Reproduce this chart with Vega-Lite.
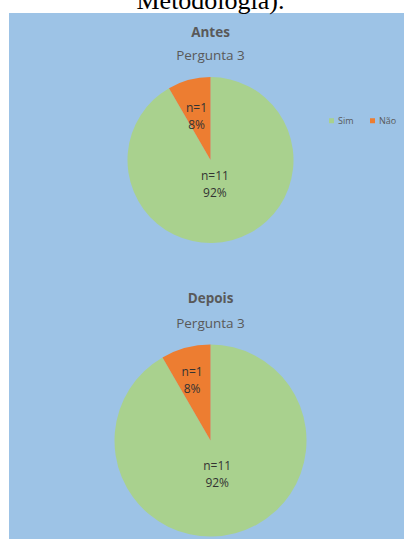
{
  "$schema": "https://vega.github.io/schema/vega-lite/v6.json",
  "autosize": {"type": "none"},
  "width": 403,
  "height": 526,
  "padding": {"left": 9, "top": 13, "right": 0, "bottom": 0},
  "background": "white",
  "title": {
    "text": "Metodologia).",
    "font": "Liberation Serif",
    "fontSize": 26,
    "fontWeight": "normal",
    "color": "black",
    "anchor": "middle",
    "baseline": "alphabetic",
    "offset": 0,
    "dy": 22
  },
  "config": {
    "view": {"stroke": null, "fill": "#9DC3E6"},
    "font": "Open Sans"
  },
  "data": {
    "values": [
      {"grupo": "Antes", "resposta": "Sim", "n": 11, "rotulo": "n=11\n92%"},
      {"grupo": "Antes", "resposta": "Não", "n": 1, "rotulo": "n=1\n8%"},
      {"grupo": "Depois", "resposta": "Sim", "n": 11, "rotulo": "n=11\n92%"},
      {"grupo": "Depois", "resposta": "Não", "n": 1, "rotulo": "n=1\n8%"}
    ]
  },
  "layer": [
    {
      "transform": [{"filter": "datum.grupo == 'Antes'"}],
      "mark": {"type": "arc", "outerRadius": 83},
      "encoding": {
        "theta": {"field": "n", "type": "quantitative", "stack": true},
        "order": {"field": "resposta", "sort": "descending"},
        "y": {"field": "grupo", "type": "nominal", "scale": {"type": "point", "domain": ["Antes", "Depois"], "padding": 0.4376, "align": 0.599}, "axis": null},
        "color": {
          "field": "resposta", "type": "nominal",
          "scale": {"domain": ["Sim", "Não"], "range": ["#A9D18E", "#ED7D31"]},
          "legend": {
            "title": null, "orient": "none", "legendX": 318, "legendY": 103,
            "direction": "horizontal", "columns": 2, "padding": 0,
            "symbolType": "square", "symbolSize": 25, "symbolStrokeWidth": 0,
            "labelFontSize": 9, "labelColor": "#595959", "labelOffset": 2,
            "columnPadding": 14
          }
        }
      }
    },
    {
      "transform": [{"filter": "datum.grupo == 'Depois'"}],
      "mark": {"type": "arc", "outerRadius": 96},
      "encoding": {
        "theta": {"field": "n", "type": "quantitative", "stack": true},
        "order": {"field": "resposta", "sort": "descending"},
        "y": {"field": "grupo", "type": "nominal", "axis": null},
        "color": {"field": "resposta", "type": "nominal"}
      }
    },
    {
      "transform": [{"filter": "datum.grupo == 'Antes'"}],
      "mark": {"type": "text", "radius": {"expr": "datum.resposta == 'Sim' ? 17 : 54"}, "lineBreak": "\n", "fontSize": 12, "lineHeight": 17, "color": "#333333", "align": "center", "baseline": "middle"},
      "encoding": {
        "theta": {"field": "n", "type": "quantitative", "stack": true},
        "order": {"field": "resposta", "sort": "descending"},
        "y": {"field": "grupo", "type": "nominal", "axis": null},
        "text": {"field": "rotulo"}
      }
    },
    {
      "transform": [{"filter": "datum.grupo == 'Depois'"}],
      "mark": {"type": "text", "radius": {"expr": "datum.resposta == 'Sim' ? 26 : 71"}, "lineBreak": "\n", "fontSize": 12, "lineHeight": 17, "color": "#333333", "align": "center", "baseline": "middle"},
      "encoding": {
        "theta": {"field": "n", "type": "quantitative", "stack": true},
        "order": {"field": "resposta", "sort": "descending"},
        "y": {"field": "grupo", "type": "nominal", "axis": null},
        "text": {"field": "rotulo"}
      }
    },
    {
      "data": {"values": [{"grupo": "Antes", "titulo": "Antes", "sub": "Pergunta 3"}, {"grupo": "Depois", "titulo": "Depois", "sub": "Pergunta 3"}]},
      "mark": {"type": "text", "fontSize": 13.5, "fontWeight": "bold", "color": "#595959", "align": "center", "baseline": "middle", "dy": {"expr": "datum.grupo == 'Antes' ? -127 : -142"}},
      "encoding": {
        "y": {"field": "grupo", "type": "nominal", "axis": null},
        "text": {"field": "titulo"}
      }
    },
    {
      "data": {"values": [{"grupo": "Antes", "titulo": "Antes", "sub": "Pergunta 3"}, {"grupo": "Depois", "titulo": "Depois", "sub": "Pergunta 3"}]},
      "mark": {"type": "text", "fontSize": 13.5, "color": "#595959", "align": "center", "baseline": "middle", "dy": {"expr": "datum.grupo == 'Antes' ? -104 : -117"}},
      "encoding": {
        "y": {"field": "grupo", "type": "nominal", "axis": null},
        "text": {"field": "sub"}
      }
    }
  ]
}
